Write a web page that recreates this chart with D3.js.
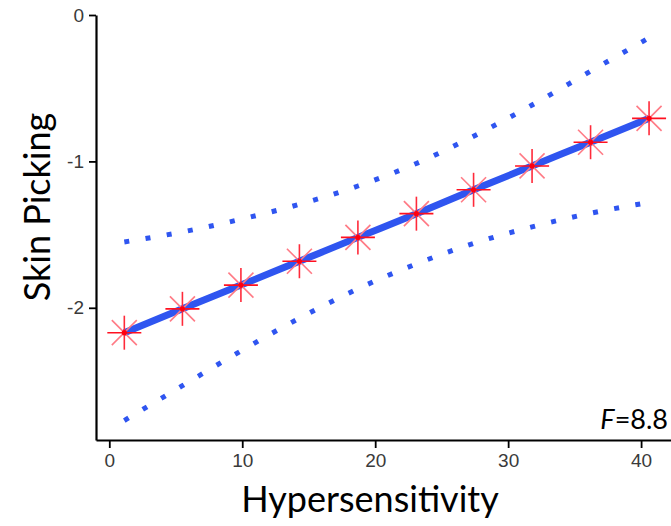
<!DOCTYPE html>
<html>
<head>
<meta charset="utf-8">
<script src="https://cdn.jsdelivr.net/npm/d3@7"></script>
<style>
  html, body { margin: 0; padding: 0; background: #fff; }
  svg { display: block; }
</style>
</head>
<body>
<svg id="chart" width="671" height="526"></svg>
<script>
// ---- data ----
const hyper = [1.13, 5.5, 9.9, 14.3, 18.7, 23.1, 27.4, 31.8, 36.2, 40.6];
const skinFit = [-2.170, -2.007, -1.845, -1.682, -1.519, -1.357, -1.194, -1.031, -0.869, -0.706];
const upperCI = [-1.55, -1.482, -1.395, -1.293, -1.168, -1.014, -0.828, -0.615, -0.384, -0.156];
const lowerCI = [-2.77, -2.532, -2.295, -2.071, -1.870, -1.700, -1.560, -1.447, -1.354, -1.28];
const xTicks = [0, 10, 20, 30, 40];
const yTicks = [0, -1, -2];
const xLabel = "Hypersensitivity";
const yLabel = "Skin Picking";
const fStat = "8.8";

const svg = d3.select("#chart");
const x = d3.scaleLinear().domain([-1, 42.25]).range([96, 671]);
const y = d3.scaleLinear().domain([-2.903, 0]).range([440, 15]);

const blue = "#2f55f0";

const pts = (arr) => hyper.map((h, i) => [h, arr[i]]);
const line = d3.line().x(d => x(d[0])).y(d => y(d[1])).curve(d3.curveMonotoneX);

// CI dotted lines
[upperCI, lowerCI].forEach(arr => {
  svg.append("path")
    .attr("d", line(pts(arr)))
    .attr("fill", "none")
    .attr("stroke", blue)
    .attr("stroke-width", 5)
    .attr("stroke-dasharray", "5,16.5");
});

// fit line
svg.append("path")
  .attr("d", line(pts(skinFit)))
  .attr("fill", "none")
  .attr("stroke", blue)
  .attr("stroke-width", 7);

// star markers
const stars = svg.append("g").selectAll("g").data(pts(skinFit)).join("g")
  .attr("transform", d => `translate(${x(d[0])},${y(d[1])})`);
const armLen = 17, diag = 12.5;
stars.append("line").attr("x1", -diag).attr("y1", -diag).attr("x2", diag).attr("y2", diag)
  .attr("stroke", "#ff7a85").attr("stroke-width", 1.6);
stars.append("line").attr("x1", -diag).attr("y1", diag).attr("x2", diag).attr("y2", -diag)
  .attr("stroke", "#ff7a85").attr("stroke-width", 1.6);
stars.append("line").attr("x1", -armLen).attr("y1", 0).attr("x2", armLen).attr("y2", 0)
  .attr("stroke", "#ff1020").attr("stroke-width", 1.6);
stars.append("line").attr("x1", 0).attr("y1", -armLen).attr("x2", 0).attr("y2", armLen)
  .attr("stroke", "#ff2a3a").attr("stroke-width", 1.6);
stars.append("circle").attr("r", 2.6).attr("fill", "#ff0010");

// axes
const fmt = d => String(d);
const xAxis = svg.append("g").attr("transform", "translate(0,440)")
  .call(d3.axisBottom(x).tickValues(xTicks).tickFormat(fmt).tickSize(8).tickSizeOuter(0).tickPadding(6));
const yAxis = svg.append("g").attr("transform", "translate(96,0)")
  .call(d3.axisLeft(y).tickValues(yTicks).tickFormat(fmt).tickSize(7).tickSizeOuter(0).tickPadding(5));
[xAxis, yAxis].forEach(g => {
  g.attr("font-size", 19).attr("font-family", "'Liberation Sans', Arial, sans-serif");
  g.select(".domain").attr("stroke", "#000").attr("stroke-width", 2.2);
  g.selectAll(".tick line").attr("stroke", "#000").attr("stroke-width", 1.8);
  g.selectAll(".tick text").attr("fill", "#3a3a3a").attr("font-size", 19);
});

// axis titles
svg.append("text")
  .attr("x", 370).attr("y", 512)
  .attr("text-anchor", "middle")
  .attr("font-family", "Lato, 'Open Sans', sans-serif")
  .attr("font-size", 36)
  .attr("fill", "#000")
  .text(xLabel);

svg.append("text")
  .attr("transform", "translate(50,207) rotate(-90)")
  .attr("text-anchor", "middle")
  .attr("font-family", "Lato, 'Open Sans', sans-serif")
  .attr("font-size", 36)
  .attr("fill", "#000")
  .text(yLabel);

// F statistic
const ft = svg.append("text")
  .attr("x", 668).attr("y", 429)
  .attr("text-anchor", "end")
  .attr("font-family", "Lato, 'Open Sans', sans-serif")
  .attr("font-size", 27)
  .attr("fill", "#000");
ft.append("tspan").attr("font-style", "italic").text("F");
ft.append("tspan").text("=" + fStat);
</script>
</body>
</html>
